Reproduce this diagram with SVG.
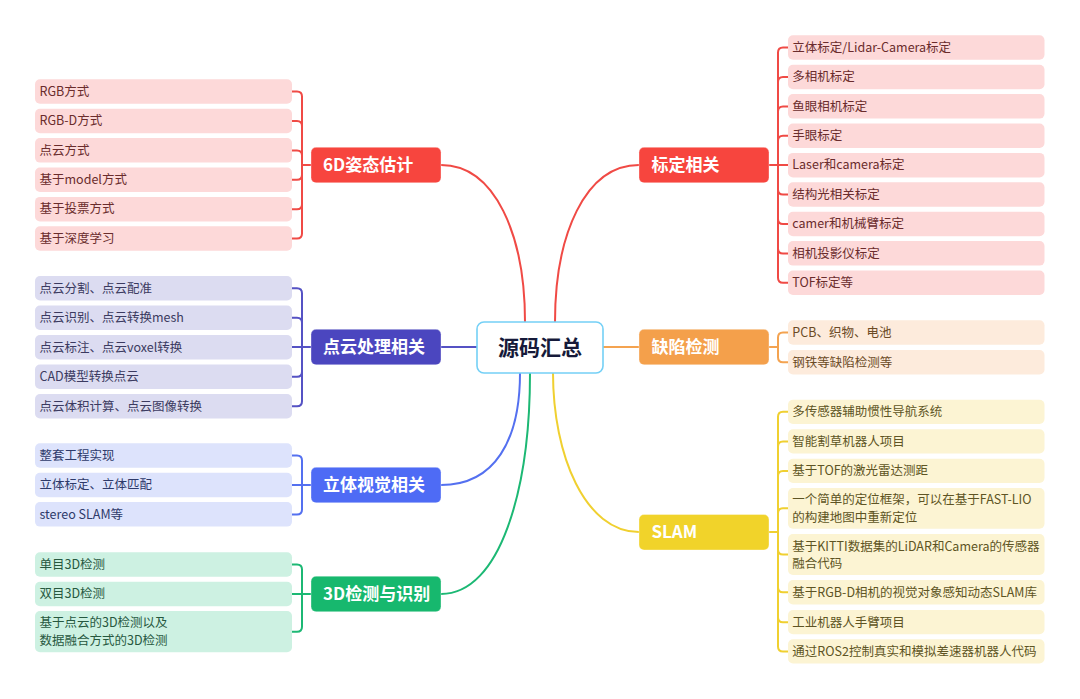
<svg xmlns="http://www.w3.org/2000/svg" width="1080" height="699" viewBox="0 0 1080 699">
<style>
text{font-family:"Noto Sans CJK SC","Noto Sans",sans-serif}
.lt{font-size:12.5px}
.bt{font-size:17px;font-weight:bold;fill:#fff}
.ct{font-size:21px;font-weight:bold;fill:#161a3a}
.lf{rx:5;ry:5}
.br{rx:5;ry:5;stroke-width:1;stroke-opacity:0.35;stroke:#fff}
.c{fill:none;stroke-width:2;stroke-linecap:round}
.r .lf{fill:#fdd9d9}.r text.lt{fill:#6a2c2c}
.p .lf{fill:#dcdcf1}.p text.lt{fill:#3b3a60}
.b .lf{fill:#dde3fc}.b text.lt{fill:#2e3a6a}
.g .lf{fill:#cdf1e2}.g text.lt{fill:#27583f}
.o .lf{fill:#fdebdc}.o text.lt{fill:#6b4a25}
.y .lf{fill:#fcf4d3}.y text.lt{fill:#5e5424}
</style>
<rect width="1080" height="699" fill="#fff"/>
<g id="connectors">
<path class="c" stroke="#f04a45" d="M441,165 C495,165 525,235 525,322"/>
<path class="c" stroke="#f04a45" d="M639,165 C585,165 555,235 555,322"/>
<path class="c" stroke="#5552c4" d="M441,347 H477"/>
<path class="c" stroke="#f4a350" d="M603,347 H639"/>
<path class="c" stroke="#5470f0" d="M441,485 C495,485 520,440 520,373"/>
<path class="c" stroke="#1cb874" d="M441,594 C500,594 530,490 530,373"/>
<path class="c" stroke="#f0d030" d="M639,532 C585,532 553,455 553,373"/>
<g stroke="#f04a45" class="c" stroke-width="1.6">
<path d="M311,165 H302 M302,165 V96.5 Q302,91.5 297,91.5 H292 M302,165 V126 Q302,121 297,121 H292 M302,165 V155.4 Q302,150.4 297,150.4 H292 M302,165 V174.8 Q302,179.8 297,179.8 H292 M302,165 V204.2 Q302,209.2 297,209.2 H292 M302,165 V233.6 Q302,238.6 297,238.6 H292"/>
<path d="M769,165 H788 M778,165 V52.6 Q778,47.6 783,47.6 H788 M778,165 V82 Q778,77 783,77 H788 M778,165 V111.4 Q778,106.4 783,106.4 H788 M778,165 V140.8 Q778,135.8 783,135.8 H788 M778,165 V189.6 Q778,194.6 783,194.6 H788 M778,165 V219 Q778,224 783,224 H788 M778,165 V248.4 Q778,253.4 783,253.4 H788 M778,165 V277.8 Q778,282.8 783,282.8 H788"/>
</g>
<g stroke="#5552c4" class="c" stroke-width="1.6">
<path d="M311,347 H292 M302,347 V293.2 Q302,288.2 297,288.2 H292 M302,347 V322.7 Q302,317.7 297,317.7 H292 M302,347 V371.7 Q302,376.7 297,376.7 H292 M302,347 V401.2 Q302,406.2 297,406.2 H292"/>
</g>
<g stroke="#5470f0" class="c" stroke-width="1.6">
<path d="M311,485 H292 M302,485 V460.5 Q302,455.5 297,455.5 H292 M302,485 V509.4 Q302,514.4 297,514.4 H292"/>
</g>
<g stroke="#1cb874" class="c" stroke-width="1.6">
<path d="M311,594 H292 M302,594 V569.5 Q302,564.5 297,564.5 H292 M302,594 V626.7 Q302,631.7 297,631.7 H292"/>
</g>
<g stroke="#f4a350" class="c" stroke-width="1.6">
<path d="M769,347 H778 M778,347 V337.5 Q778,332.5 783,332.5 H788 M778,347 V357.2 Q778,362.2 783,362.2 H788"/>
</g>
<g stroke="#f0d030" class="c" stroke-width="1.6">
<path d="M769,532 H778 M778,532 V416.8 Q778,411.8 783,411.8 H788 M778,532 V446.5 Q778,441.5 783,441.5 H788 M778,532 V475.9 Q778,470.9 783,470.9 H788 M778,532 V513.3 Q778,508.3 783,508.3 H788 M778,532 V549.5 Q778,554.5 783,554.5 H788 M778,532 V587.3 Q778,592.3 783,592.3 H788 M778,532 V617.2 Q778,622.2 783,622.2 H788 M778,532 V646.5 Q778,651.5 783,651.5 H788"/>
</g>
</g>
<g id="root">
<rect x="477" y="322" width="126" height="51" rx="7" fill="#fff" stroke="#74d0f6" stroke-width="1.6"/>
<text class="ct" x="540" y="355" text-anchor="middle">源码汇总</text>
</g>
<g id="b-6d" class="r">
<rect class="br" x="311" y="147.3" width="130" height="35.5" fill="#f7453e"/>
<text class="bt" x="323" y="171">6D姿态估计</text>
</g>
<g id="l-6d-1" class="r"><rect class="lf" x="35" y="79.3" width="257" height="24.5"/><text class="lt" x="39.5" y="95.8">RGB方式</text></g>
<g id="l-6d-2" class="r"><rect class="lf" x="35" y="108.7" width="257" height="24.5"/><text class="lt" x="39.5" y="125.2">RGB-D方式</text></g>
<g id="l-6d-3" class="r"><rect class="lf" x="35" y="138.1" width="257" height="24.5"/><text class="lt" x="39.5" y="154.6">点云方式</text></g>
<g id="l-6d-4" class="r"><rect class="lf" x="35" y="167.5" width="257" height="24.5"/><text class="lt" x="39.5" y="184">基于model方式</text></g>
<g id="l-6d-5" class="r"><rect class="lf" x="35" y="196.9" width="257" height="24.5"/><text class="lt" x="39.5" y="213.4">基于投票方式</text></g>
<g id="l-6d-6" class="r"><rect class="lf" x="35" y="226.3" width="257" height="24.5"/><text class="lt" x="39.5" y="242.8">基于深度学习</text></g>
<g id="b-pc" class="p">
<rect class="br" x="311" y="329.3" width="130" height="35.5" fill="#4b46bf"/>
<text class="bt" x="323" y="353">点云处理相关</text>
</g>
<g id="l-pc-1" class="p"><rect class="lf" x="35" y="276" width="257" height="24.5"/><text class="lt" x="39.5" y="292.5">点云分割、点云配准</text></g>
<g id="l-pc-2" class="p"><rect class="lf" x="35" y="305.5" width="257" height="24.5"/><text class="lt" x="39.5" y="322">点云识别、点云转换mesh</text></g>
<g id="l-pc-3" class="p"><rect class="lf" x="35" y="335" width="257" height="24.5"/><text class="lt" x="39.5" y="351.5">点云标注、点云voxel转换</text></g>
<g id="l-pc-4" class="p"><rect class="lf" x="35" y="364.5" width="257" height="24.5"/><text class="lt" x="39.5" y="381">CAD模型转换点云</text></g>
<g id="l-pc-5" class="p"><rect class="lf" x="35" y="394" width="257" height="24.5"/><text class="lt" x="39.5" y="410.5">点云体积计算、点云图像转换</text></g>
<g id="b-st" class="b">
<rect class="br" x="311" y="467.3" width="130" height="35.5" fill="#4e6bf5"/>
<text class="bt" x="323" y="491">立体视觉相关</text>
</g>
<g id="l-st-1" class="b"><rect class="lf" x="35" y="443.3" width="257" height="24.5"/><text class="lt" x="39.5" y="459.8">整套工程实现</text></g>
<g id="l-st-2" class="b"><rect class="lf" x="35" y="472.7" width="257" height="24.5"/><text class="lt" x="39.5" y="489.2">立体标定、立体匹配</text></g>
<g id="l-st-3" class="b"><rect class="lf" x="35" y="502.1" width="257" height="24.5"/><text class="lt" x="39.5" y="518.6">stereo SLAM等</text></g>
<g id="b-3d" class="g">
<rect class="br" x="311" y="576.2" width="130" height="35.5" fill="#17b86e"/>
<text class="bt" x="323" y="600">3D检测与识别</text>
</g>
<g id="l-3d-1" class="g"><rect class="lf" x="35" y="552.3" width="257" height="24.5"/><text class="lt" x="39.5" y="568.8">单目3D检测</text></g>
<g id="l-3d-2" class="g"><rect class="lf" x="35" y="581.7" width="257" height="24.5"/><text class="lt" x="39.5" y="598.2">双目3D检测</text></g>
<g id="l-3d-3" class="g"><rect class="lf" x="35" y="611" width="257" height="41.3"/><text class="lt" x="39.5" y="627.1">基于点云的3D检测以及</text><text class="lt" x="39.5" y="644.8">数据融合方式的3D检测</text></g>
<g id="b-cal" class="r">
<rect class="br" x="639" y="147.3" width="130" height="35.5" fill="#f7453e"/>
<text class="bt" x="651.5" y="171">标定相关</text>
</g>
<g id="l-cal-1" class="r"><rect class="lf" x="788" y="35.3" width="256.5" height="24.5"/><text class="lt" x="792.3" y="51.8">立体标定/Lidar-Camera标定</text></g>
<g id="l-cal-2" class="r"><rect class="lf" x="788" y="64.7" width="256.5" height="24.5"/><text class="lt" x="792.3" y="81.2">多相机标定</text></g>
<g id="l-cal-3" class="r"><rect class="lf" x="788" y="94.1" width="256.5" height="24.5"/><text class="lt" x="792.3" y="110.6">鱼眼相机标定</text></g>
<g id="l-cal-4" class="r"><rect class="lf" x="788" y="123.5" width="256.5" height="24.5"/><text class="lt" x="792.3" y="140">手眼标定</text></g>
<g id="l-cal-5" class="r"><rect class="lf" x="788" y="152.9" width="256.5" height="24.5"/><text class="lt" x="792.3" y="169.4">Laser和camera标定</text></g>
<g id="l-cal-6" class="r"><rect class="lf" x="788" y="182.3" width="256.5" height="24.5"/><text class="lt" x="792.3" y="198.8">结构光相关标定</text></g>
<g id="l-cal-7" class="r"><rect class="lf" x="788" y="211.7" width="256.5" height="24.5"/><text class="lt" x="792.3" y="228.2">camer和机械臂标定</text></g>
<g id="l-cal-8" class="r"><rect class="lf" x="788" y="241.1" width="256.5" height="24.5"/><text class="lt" x="792.3" y="257.6">相机投影仪标定</text></g>
<g id="l-cal-9" class="r"><rect class="lf" x="788" y="270.5" width="256.5" height="24.5"/><text class="lt" x="792.3" y="287">TOF标定等</text></g>
<g id="b-def" class="o">
<rect class="br" x="639" y="329.3" width="130" height="35.5" fill="#f4a04b"/>
<text class="bt" x="651.5" y="353">缺陷检测</text>
</g>
<g id="l-def-1" class="o"><rect class="lf" x="788" y="320.3" width="256.5" height="24.5"/><text class="lt" x="792.3" y="336.8">PCB、织物、电池</text></g>
<g id="l-def-2" class="o"><rect class="lf" x="788" y="350" width="256.5" height="24.5"/><text class="lt" x="792.3" y="366.5">钢铁等缺陷检测等</text></g>
<g id="b-slam" class="y">
<rect class="br" x="639" y="514.5" width="130" height="35.5" fill="#f1d32a"/>
<text class="bt" x="651.5" y="538.2">SLAM</text>
</g>
<g id="l-slam-1" class="y"><rect class="lf" x="788" y="399.7" width="256.5" height="24.2"/><text class="lt" x="792.3" y="416.1">多传感器辅助惯性导航系统</text></g>
<g id="l-slam-2" class="y"><rect class="lf" x="788" y="429.3" width="256.5" height="24.2"/><text class="lt" x="792.3" y="445.8">智能割草机器人项目</text></g>
<g id="l-slam-3" class="y"><rect class="lf" x="788" y="458.7" width="256.5" height="24.2"/><text class="lt" x="792.3" y="475.2">基于TOF的激光雷达测距</text></g>
<g id="l-slam-4" class="y"><rect class="lf" x="788" y="488" width="256.5" height="40.7"/><text class="lt" x="792.3" y="504.3">一个简单的定位框架，可以在基于FAST-LIO</text><text class="lt" x="792.3" y="522">的构建地图中重新定位</text></g>
<g id="l-slam-5" class="y"><rect class="lf" x="788" y="534" width="256.5" height="41"/><text class="lt" x="792.3" y="550.5">基于KITTI数据集的LiDAR和Camera的传感器</text><text class="lt" x="792.3" y="568.2">融合代码</text></g>
<g id="l-slam-6" class="y"><rect class="lf" x="788" y="580" width="256.5" height="24.5"/><text class="lt" x="792.3" y="596.6">基于RGB-D相机的视觉对象感知动态SLAM库</text></g>
<g id="l-slam-7" class="y"><rect class="lf" x="788" y="610" width="256.5" height="24.2"/><text class="lt" x="792.3" y="626.5">工业机器人手臂项目</text></g>
<g id="l-slam-8" class="y"><rect class="lf" x="788" y="639.3" width="256.5" height="24.2"/><text class="lt" x="792.3" y="655.8">通过ROS2控制真实和模拟差速器机器人代码</text></g>
</svg>
